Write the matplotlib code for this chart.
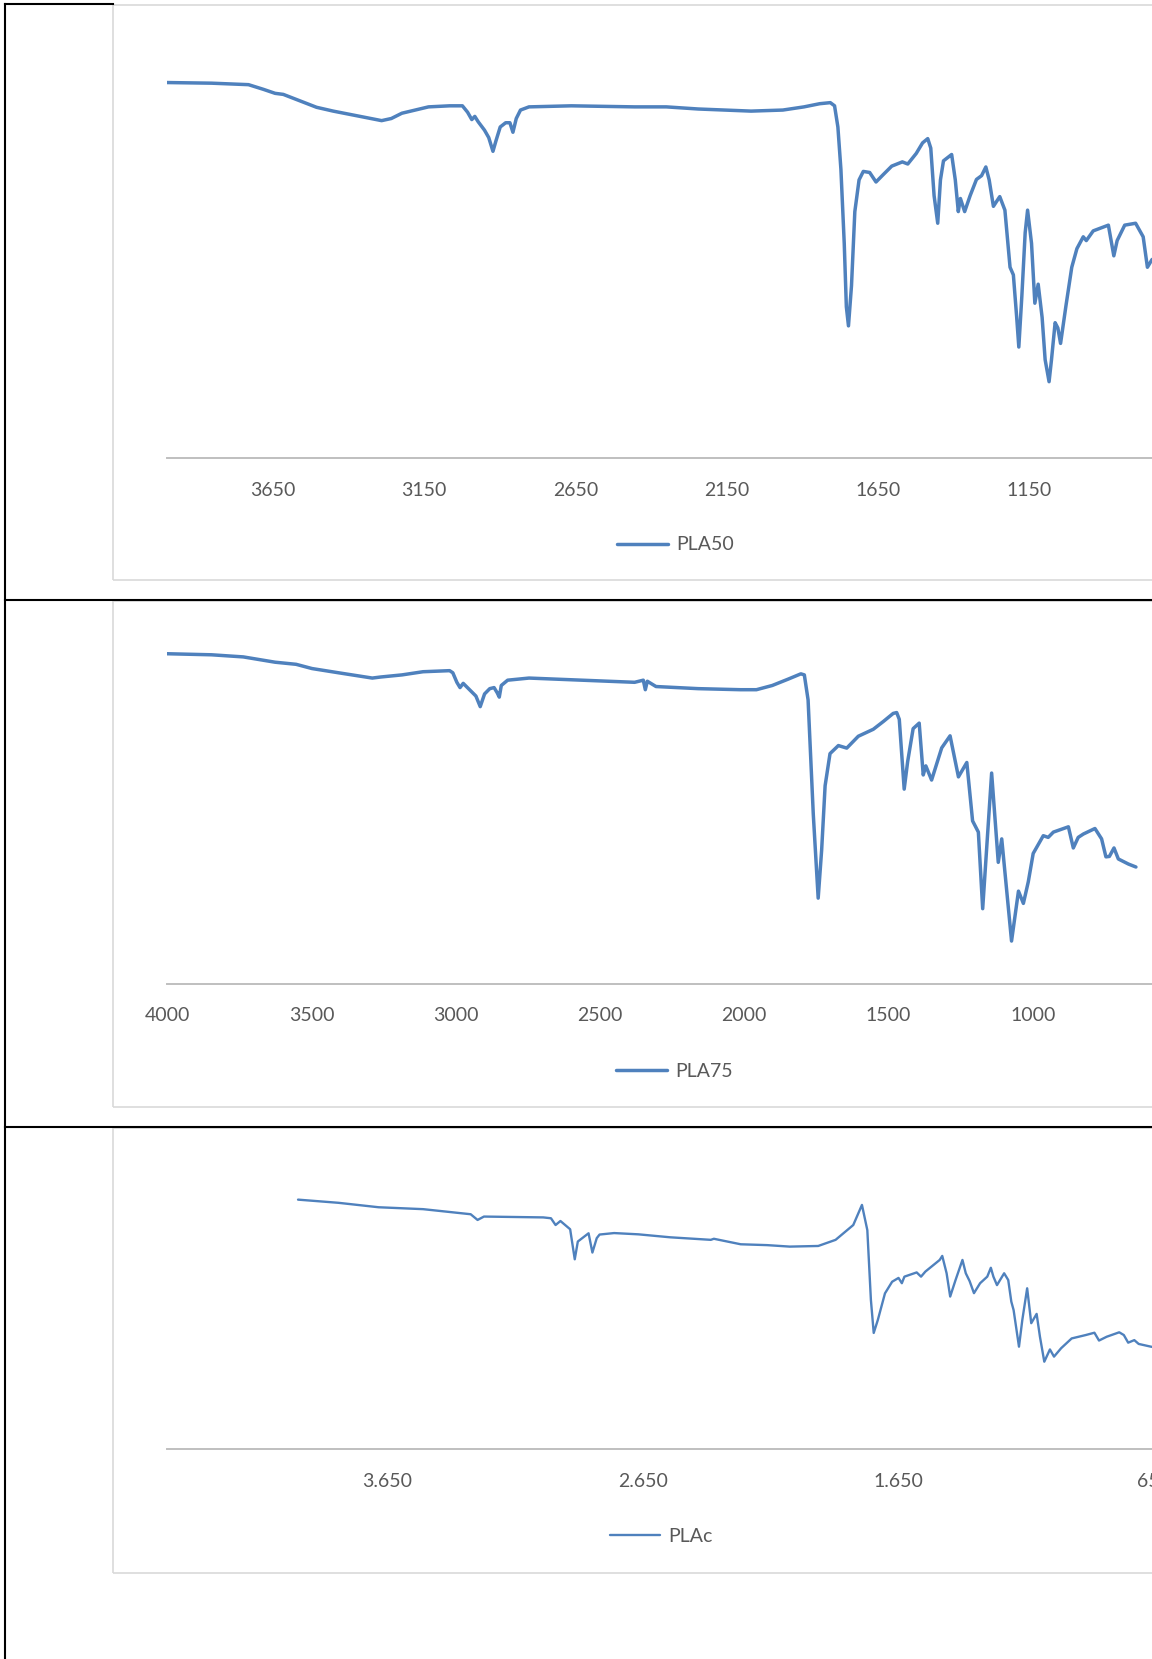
import matplotlib
matplotlib.use("Agg")
import matplotlib.pyplot as plt
from matplotlib.lines import Line2D
from matplotlib.patches import Rectangle
from matplotlib.ticker import FuncFormatter

# ---------------- data (wavenumber cm-1, transmittance a.u.) ----------------
pla50_wn = [4000, 3853, 3731, 3682, 3643, 3616, 3506, 3451, 3291, 3259, 3224, 3136,
            3066, 3024, 3007, 2993, 2983, 2972, 2951, 2937, 2923, 2913, 2899, 2881,
            2867, 2857, 2846, 2832, 2804, 2664, 2455, 2350, 2245, 2070, 1965, 1895,
            1843, 1808, 1794, 1783, 1773, 1762, 1755, 1748, 1738, 1727, 1713, 1699,
            1678, 1657, 1633, 1605, 1570, 1552, 1524, 1503, 1486, 1476, 1465, 1453,
            1444, 1434, 1416, 1407, 1395, 1385, 1378, 1364, 1346, 1325, 1308, 1294,
            1283, 1269, 1248, 1231, 1214, 1203, 1192, 1185, 1175, 1164, 1156, 1143,
            1132, 1121, 1108, 1098, 1085, 1077, 1065, 1056, 1047, 1029, 1010, 993,
            972, 962, 939, 889, 871, 860, 835, 799, 774, 760, 745, 730]
pla50_t = [88.75, 88.6, 88.25, 87.15, 86.2, 85.95, 82.9, 82.0, 79.75, 80.25, 81.5, 83.0,
           83.25, 83.25, 81.75, 80.0, 80.75, 79.5, 77.5, 75.75, 72.5, 75.0, 78.25, 79.25,
           79.25, 77.0, 80.25, 82.25, 83.0, 83.25, 83.0, 83.0, 82.5, 82.0, 82.25, 83.0,
           83.75, 84.0, 83.25, 78.25, 68.25, 50.75, 35.75, 31.25, 40.75, 58.25, 65.75, 67.75,
           67.5, 65.25, 67.0, 69.0, 70.0, 69.5, 72.0, 74.5, 75.5, 73.25, 62.0, 55.5,
           65.75, 70.25, 71.25, 71.75, 65.75, 58.25, 61.35, 58.25, 62.0, 65.85, 66.75, 68.8,
           65.75, 59.5, 61.8, 58.6, 45.1, 43.3, 33.25, 26.25, 38.25, 53.25, 58.6, 50.75,
           36.6, 41.1, 33.25, 23.25, 18.05, 23.25, 32.0, 30.75, 27.1, 36.1, 45.1, 49.5,
           52.3, 51.4, 53.7, 55.05, 47.8, 51.4, 55.05, 55.5, 52.3, 45.1, 46.9, 47.5]

pla75_wn = [4000, 3846, 3736, 3626, 3553, 3498, 3406, 3289, 3260, 3186, 3113, 3021,
            3010, 2996, 2985, 2974, 2952, 2930, 2915, 2900, 2882, 2867, 2856, 2849,
            2842, 2820, 2746, 2563, 2380, 2350, 2343, 2336, 2306, 2160, 2013, 1958,
            1903, 1848, 1804, 1792, 1779, 1761, 1744, 1732, 1720, 1703, 1674, 1645,
            1605, 1553, 1518, 1484, 1472, 1463, 1446, 1434, 1415, 1394, 1380, 1371,
            1351, 1316, 1287, 1258, 1229, 1209, 1189, 1174, 1143, 1120, 1108, 1074,
            1050, 1033, 1016, 999, 964, 947, 929, 877, 860, 843, 825, 785,
            762, 747, 735, 719, 704, 669, 643]
pla75_t = [78.0, 77.75, 77.25, 76.0, 75.5, 74.5, 73.5, 72.25, 72.5, 73.0, 73.75, 74.0,
           73.5, 71.25, 70.0, 71.0, 69.5, 68.0, 65.5, 68.5, 69.75, 70.0, 68.75, 67.75,
           70.5, 71.75, 72.25, 71.75, 71.25, 71.75, 69.5, 71.5, 70.25, 69.75, 69.5, 69.5,
           70.5, 72.0, 73.25, 73.0, 67.1, 40.1, 20.25, 31.6, 46.8, 54.4, 56.3, 55.7,
           58.5, 60.15, 62.0, 63.9, 64.1, 62.5, 46.0, 52.5, 60.3, 61.6, 49.35, 51.5,
           48.15, 55.75, 58.6, 48.9, 52.3, 38.5, 35.85, 17.75, 49.8, 28.7, 34.25, 10.1,
           21.9, 19.0, 24.1, 30.8, 35.0, 34.6, 35.85, 37.1, 32.1, 34.6, 35.4, 36.7,
           34.25, 30.0, 30.1, 32.1, 29.5, 28.3, 27.6]

plac_wn = [3998, 3840, 3683, 3509, 3323, 3296, 3271, 3039, 3009, 2991, 2972, 2934,
           2916, 2904, 2862, 2847, 2830, 2819, 2762, 2667, 2543, 2384, 2372, 2267,
           2164, 2075, 1964, 1896, 1827, 1793, 1772, 1758, 1747, 1731, 1703, 1675,
           1650, 1637, 1627, 1579, 1562, 1545, 1489, 1479, 1462, 1448, 1427, 1400,
           1387, 1372, 1355, 1331, 1303, 1289, 1279, 1265, 1237, 1221, 1209, 1200,
           1179, 1166, 1147, 1131, 1110, 1097, 1080, 1058, 1042, 1014, 973, 918,
           884, 866, 836, 787, 769, 752, 728, 711, 663, 640]
plac_t = [59.0, 58.25, 57.2, 56.75, 55.55, 54.2, 55.0, 54.8, 54.6, 53.0, 53.95, 52.0,
          44.9, 49.1, 51.05, 46.5, 49.9, 50.75, 51.1, 50.8, 50.1, 49.5, 49.75, 48.45,
          48.25, 47.9, 48.05, 49.5, 53.0, 57.75, 51.8, 35.3, 27.5, 30.55, 36.85, 39.6,
          40.5, 39.25, 40.8, 41.8, 40.8, 42.0, 44.75, 45.7, 41.6, 36.1, 40.0, 44.75,
          41.6, 39.75, 36.9, 39.25, 40.8, 42.9, 40.8, 38.8, 41.6, 40.0, 34.9, 32.9,
          24.25, 30.55, 38.05, 29.8, 32.0, 26.6, 20.7, 23.6, 21.9, 23.9, 26.2, 27.0,
          27.55, 25.7, 26.6, 27.65, 27.0, 25.2, 25.8, 24.9, 24.25, 24.0]

series_names = ["PLA50", "PLA75", "PLAc"]
pla50_ticks = [3650, 3150, 2650, 2150, 1650, 1150]
pla75_ticks = [4000, 3500, 3000, 2500, 2000, 1500, 1000]
plac_ticks = [3650, 2650, 1650, 650]

# ---------------- styling / layout ----------------
plt.rcParams['font.family'] = ['Lato', 'DejaVu Sans']
W, H = 1152, 1659
LINE_COLOR = '#4F81BD'
TEXT_COLOR = '#595959'
AXIS_COLOR = '#BFBFBF'
BOX_COLOR = '#D9D9D9'
PX_PER_UNIT = 4.2316

fig = plt.figure(figsize=(W / 100, H / 100), dpi=100)


def fx(px):
    return px / W


def fy(py):
    return 1 - py / H


def plain_fmt(v, pos):
    return f"{int(round(v))}"


def dot_fmt(v, pos):
    return f"{int(round(v)):,}".replace(",", ".")


charts = [
    dict(wn=pla50_wn, t=pla50_t, name=series_names[0], ticks=pla50_ticks,
         xlim=(4000, 450), left=167.1, right=1241.2, axis_y=458.1, top=40,
         lw=2.5, legend=(675.5, 545), fmt=plain_fmt, box=(113, 4.5, 580)),
    dict(wn=pla75_wn, t=pla75_t, name=series_names[1], ticks=pla75_ticks,
         xlim=(4000, 500), left=167.1, right=1177.2, axis_y=983.8, top=620,
         lw=2.5, legend=(674.4, 1071.5), fmt=plain_fmt, box=(113, 601, 1106.7)),
    dict(wn=plac_wn, t=plac_t, name=series_names[2], ticks=plac_ticks,
         xlim=(4510, 400), left=167.1, right=1218.2, axis_y=1449.3, top=1140,
         lw=1.7, legend=(661, 1536), fmt=dot_fmt, box=(113, 1128, 1573)),
]

# chart area boxes (Excel chart borders), right side runs off the page
for c in charts:
    bx, btop, bbot = c['box']
    fig.add_artist(Rectangle((fx(bx), fy(bbot)), fx(1400 - bx), (bbot - btop) / H,
                             transform=fig.transFigure, fill=False,
                             edgecolor=BOX_COLOR, linewidth=1.2, zorder=0))

for c in charts:
    ax = fig.add_axes([fx(c['left']), fy(c['axis_y']),
                       (c['right'] - c['left']) / W, (c['axis_y'] - c['top']) / H])
    ax.patch.set_alpha(0)
    ax.plot(c['wn'], c['t'], color=LINE_COLOR, linewidth=c['lw'],
            solid_joinstyle='round', solid_capstyle='round', label=c['name'])
    ax.set_xlim(*c['xlim'])
    ax.set_ylim(0, (c['axis_y'] - c['top']) / PX_PER_UNIT)
    for s in ['top', 'left', 'right']:
        ax.spines[s].set_visible(False)
    ax.spines['bottom'].set_color(AXIS_COLOR)
    ax.spines['bottom'].set_linewidth(1.4)
    ax.set_yticks([])
    ax.set_xticks(c['ticks'])
    ax.xaxis.set_major_formatter(FuncFormatter(c['fmt']))
    ax.tick_params(axis='x', length=0, pad=17, labelsize=14, labelcolor=TEXT_COLOR)
    lx, ly = c['legend']
    ax.legend(loc='center', bbox_to_anchor=(fx(lx), fy(ly)),
              bbox_transform=fig.transFigure, frameon=False, fontsize=14,
              labelcolor=TEXT_COLOR, handlelength=2.6, handletextpad=0.4,
              borderpad=0, borderaxespad=0)

# black table borders
black = dict(color='black', linewidth=1.5, transform=fig.transFigure, zorder=5)
fig.add_artist(Line2D([fx(5.3), fx(5.3)], [fy(3.5), fy(H)], **black))
fig.add_artist(Line2D([fx(4.5), fx(113)], [fy(4.2), fy(4.2)], **black))
fig.add_artist(Line2D([fx(4.5), fx(W)], [fy(600), fy(600)], **black))
fig.add_artist(Line2D([fx(4.5), fx(W)], [fy(1127), fy(1127)], **black))

fig.savefig('out.png', dpi=100)
